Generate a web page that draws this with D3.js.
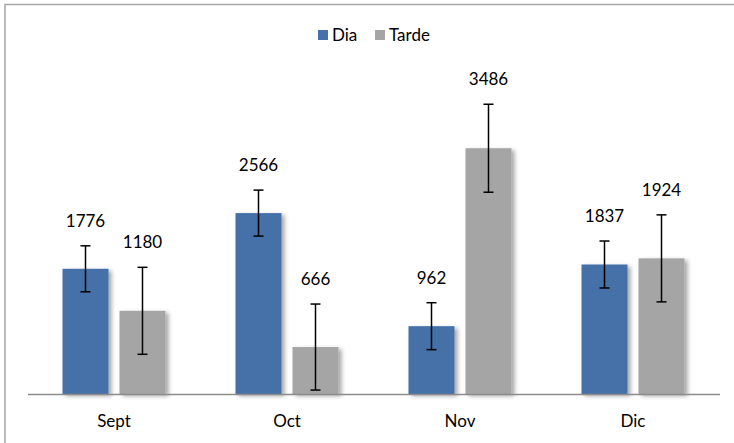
<!DOCTYPE html>
<html>
<head>
<meta charset="utf-8">
<script src="https://cdn.jsdelivr.net/npm/d3@7"></script>
<style>
  html, body { margin: 0; padding: 0; background: #fff; }
  svg { display: block; }
  text { font-family: Lato, "Open Sans", sans-serif; fill: #000; }
</style>
</head>
<body>
<div id="chart"></div>
<script>
const categories = ["Sept", "Oct", "Nov", "Dic"];
const seriesNames = ["Dia", "Tarde"];
const diaValues = [1776, 2566, 962, 1837];
const tardeValues = [1180, 666, 3486, 1924];
const diaErrors = [326, 326, 333, 333];
const tardeErrors = [617, 610, 624, 617];
const seriesColors = ["#4570A8", "#A5A5A5"];

const W = 734, H = 443;
const svg = d3.select("#chart").append("svg").attr("width", W).attr("height", H);

const defs = svg.append("defs");
const f = defs.append("filter").attr("id", "shadow")
  .attr("x", "-20%").attr("y", "-20%").attr("width", "150%").attr("height", "150%");
f.append("feDropShadow").attr("dx", 3).attr("dy", 2).attr("stdDeviation", 2)
  .attr("flood-color", "#000").attr("flood-opacity", 0.35);

// frame
svg.append("rect").attr("x", 5).attr("y", 4.5).attr("width", W + 10).attr("height", H + 10)
  .attr("fill", "none").attr("stroke", "#a6a6a6").attr("stroke-width", 1.5);

const baseY = 394;
const x0 = d3.scaleBand().domain(categories).range([27.5, 719.5]).paddingInner(0).paddingOuter(0);
const x1 = d3.scaleBand().domain(seriesNames).range([0, x0.bandwidth()]).paddingInner(0.193).paddingOuter(0.614);
const y = d3.scaleLinear().domain([0, 5000]).range([baseY, baseY - 0.0705 * 5000]);

const data = categories.map((c, i) => ({
  cat: c,
  vals: [
    { s: "Dia", v: diaValues[i], e: diaErrors[i], color: seriesColors[0] },
    { s: "Tarde", v: tardeValues[i], e: tardeErrors[i], color: seriesColors[1] }
  ]
}));

const groups = svg.append("g").selectAll("g").data(data).join("g")
  .attr("transform", d => `translate(${x0(d.cat)},0)`);

groups.selectAll("rect").data(d => d.vals).join("rect")
  .attr("x", d => x1(d.s))
  .attr("y", d => y(d.v))
  .attr("width", x1.bandwidth())
  .attr("height", d => baseY - y(d.v))
  .attr("fill", d => d.color)
  .attr("filter", "url(#shadow)");

// axis
const axis = svg.append("g").attr("transform", `translate(0,${baseY})`)
  .call(d3.axisBottom(x0).tickSize(0).tickPadding(21));
axis.select(".domain").attr("stroke", "#8c8c8c").attr("stroke-width", 1.5);
axis.selectAll("text").style("font-size", "17px").style("font-family", "Lato, 'Open Sans', sans-serif").attr("fill", "#000");

// error bars
const eb = groups.selectAll("g.err").data(d => d.vals).join("g").attr("class", "err")
  .attr("stroke", "#000").attr("stroke-width", 1.5);
eb.append("line")
  .attr("x1", d => x1(d.s) + x1.bandwidth() / 2).attr("x2", d => x1(d.s) + x1.bandwidth() / 2)
  .attr("y1", d => y(d.v + d.e)).attr("y2", d => y(d.v - d.e));
eb.append("line")
  .attr("x1", d => x1(d.s) + x1.bandwidth() / 2 - 5).attr("x2", d => x1(d.s) + x1.bandwidth() / 2 + 5)
  .attr("y1", d => y(d.v + d.e)).attr("y2", d => y(d.v + d.e));
eb.append("line")
  .attr("x1", d => x1(d.s) + x1.bandwidth() / 2 - 5).attr("x2", d => x1(d.s) + x1.bandwidth() / 2 + 5)
  .attr("y1", d => y(d.v - d.e)).attr("y2", d => y(d.v - d.e));

// value labels
groups.selectAll("text.val").data(d => d.vals).join("text").attr("class", "val")
  .attr("x", d => x1(d.s) + x1.bandwidth() / 2)
  .attr("y", d => y(d.v + d.e) - 19)
  .attr("text-anchor", "middle")
  .style("font-size", "17px")
  .text(d => d.v);

// legend
const legend = svg.append("g").attr("transform", "translate(318,35)");
const items = [{ n: seriesNames[0], c: seriesColors[0], x: 0 }, { n: seriesNames[1], c: seriesColors[1], x: 57 }];
const li = legend.selectAll("g").data(items).join("g").attr("transform", d => `translate(${d.x},0)`);
li.append("rect").attr("x", 0).attr("y", -5).attr("width", 10).attr("height", 10).attr("fill", d => d.c);
li.append("text").attr("x", 14).attr("y", 0).attr("dy", "0.35em").style("font-size", "17px").text(d => d.n);
</script>
</body>
</html>
